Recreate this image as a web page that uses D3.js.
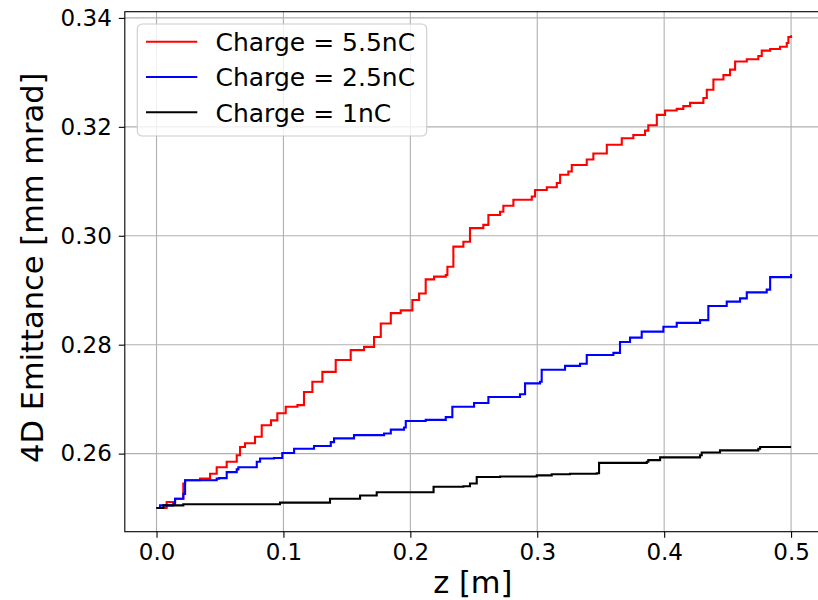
<!DOCTYPE html>
<html>
<head>
<meta charset="utf-8">
<script src="https://cdn.jsdelivr.net/npm/d3@7"></script>
<style>
  html, body { margin: 0; padding: 0; background: #fff; }
  svg { display: block; }
  text { font-family: "DejaVu Sans", sans-serif; fill: #000; }
</style>
</head>
<body>
<svg id="chart" width="818" height="600"></svg>
<script>
// ---- data ----
const zRed = [0.0, 0.008, 0.0146, 0.0211, 0.0225, 0.0343, 0.0422, 0.0474, 0.0553, 0.0632, 0.0658, 0.0697, 0.0776, 0.0829, 0.0902, 0.0952, 0.1018, 0.111, 0.1162, 0.1228, 0.1307, 0.1412, 0.153, 0.1635, 0.1714, 0.1767, 0.1846, 0.1924, 0.2016, 0.2069, 0.2121, 0.2187, 0.2279, 0.2292, 0.2339, 0.2418, 0.247, 0.2575, 0.2615, 0.2707, 0.2733, 0.2812, 0.2957, 0.2983, 0.3075, 0.3154, 0.318, 0.3245, 0.3272, 0.339, 0.3442, 0.3548, 0.3666, 0.3757, 0.3849, 0.3875, 0.3942, 0.4007, 0.4099, 0.4151, 0.4204, 0.4309, 0.4336, 0.4388, 0.4467, 0.4519, 0.4559, 0.4651, 0.4742, 0.4769, 0.4835, 0.4913, 0.4966, 0.4979, 0.5];
const emitRed = [0.2500, 0.2511, 0.2517, 0.2545, 0.2551, 0.2554, 0.2563, 0.2575, 0.2585, 0.2597, 0.2612, 0.2619, 0.2631, 0.2652, 0.2661, 0.2674, 0.2686, 0.2689, 0.2713, 0.2732, 0.2750, 0.2772, 0.2790, 0.2796, 0.2814, 0.2839, 0.2858, 0.2863, 0.2882, 0.2894, 0.2920, 0.2925, 0.2928, 0.2943, 0.2980, 0.2989, 0.3014, 0.3020, 0.3038, 0.3044, 0.3055, 0.3066, 0.3072, 0.3084, 0.3089, 0.3097, 0.3112, 0.3118, 0.3130, 0.3140, 0.3151, 0.3167, 0.3179, 0.3185, 0.3193, 0.3203, 0.3222, 0.3230, 0.3233, 0.3238, 0.3244, 0.3253, 0.3268, 0.3287, 0.3295, 0.3305, 0.3320, 0.3324, 0.3330, 0.3340, 0.3343, 0.3347, 0.3354, 0.3365, 0.3368];

const zBlue = [0.0, 0.0028, 0.0132, 0.0146, 0.0211, 0.0225, 0.0474, 0.0493, 0.0553, 0.0632, 0.0645, 0.079, 0.0816, 0.0926, 0.0991, 0.1084, 0.1241, 0.1373, 0.1399, 0.1556, 0.1793, 0.1846, 0.195, 0.1964, 0.2121, 0.2279, 0.2331, 0.2502, 0.2615, 0.2864, 0.2904, 0.3022, 0.3035, 0.3219, 0.3337, 0.339, 0.36, 0.3652, 0.3731, 0.3823, 0.3994, 0.4099, 0.4283, 0.4348, 0.4493, 0.4598, 0.4651, 0.4808, 0.4835, 0.5];
const emitBlue = [0.2500, 0.2505, 0.2508, 0.2517, 0.2526, 0.2551, 0.2554, 0.2555, 0.2566, 0.2571, 0.2575, 0.2585, 0.2591, 0.2592, 0.2601, 0.2609, 0.2614, 0.2621, 0.2628, 0.2634, 0.2637, 0.2644, 0.2648, 0.2660, 0.2662, 0.2667, 0.2686, 0.2693, 0.2704, 0.2709, 0.2729, 0.2732, 0.2754, 0.2761, 0.2765, 0.2781, 0.2785, 0.2805, 0.2813, 0.2824, 0.2833, 0.2840, 0.2845, 0.2871, 0.2879, 0.2885, 0.2896, 0.2901, 0.2924, 0.2930];

const zBlack = [0.0, 0.0054, 0.0211, 0.0605, 0.0973, 0.1367, 0.1604, 0.1735, 0.2183, 0.2418, 0.247, 0.2523, 0.2707, 0.2996, 0.3114, 0.3258, 0.3469, 0.3487, 0.3863, 0.3875, 0.3968, 0.4283, 0.4296, 0.444, 0.4742, 0.4756, 0.5];
const emitBlack = [0.2500, 0.2505, 0.2507, 0.2507, 0.2510, 0.2517, 0.2523, 0.2529, 0.2539, 0.2540, 0.2545, 0.2557, 0.2558, 0.2560, 0.2562, 0.2563, 0.2564, 0.2583, 0.2585, 0.2588, 0.2593, 0.2597, 0.2602, 0.2606, 0.2609, 0.2612, 0.2612];

const seriesNames = ["Charge = 5.5nC", "Charge = 2.5nC", "Charge = 1nC"];
const seriesColors = ["#ff0000", "#0000ff", "#000000"];

const xTicks = [0.0, 0.1, 0.2, 0.3, 0.4, 0.5];
const yTicks = [0.26, 0.28, 0.30, 0.32, 0.34];
const xDomain = [-0.025, 0.525];
const yDomain = [0.24566, 0.34114];
const xLabel = "z [m]";
const yLabel = "4D Emittance [mm mrad]";

// ---- layout ----
const plot = { left: 124.8, right: 822.8, top: 11.7, bottom: 531.7 };
const svg = d3.select("#chart");

const x = d3.scaleLinear().domain(xDomain).range([plot.left, plot.right]);
const y = d3.scaleLinear().domain(yDomain).range([plot.bottom, plot.top]);

// grid
const grid = svg.append("g");
grid.selectAll("line.gx").data(xTicks).enter().append("line")
  .attr("x1", d => x(d)).attr("x2", d => x(d))
  .attr("y1", plot.top).attr("y2", plot.bottom)
  .attr("stroke", "#b0b0b0").attr("stroke-width", 1.1);
grid.selectAll("line.gy").data(yTicks).enter().append("line")
  .attr("y1", d => y(d)).attr("y2", d => y(d))
  .attr("x1", plot.left).attr("x2", plot.right)
  .attr("stroke", "#b0b0b0").attr("stroke-width", 1.1);

// series
const series = [
  { z: zRed, v: emitRed },
  { z: zBlue, v: emitBlue },
  { z: zBlack, v: emitBlack }
];
const line = d3.line().x(d => x(d[0])).y(d => y(d[1])).curve(d3.curveStepAfter);
svg.append("defs").append("clipPath").attr("id", "clip")
  .append("rect").attr("x", plot.left).attr("y", plot.top)
  .attr("width", plot.right - plot.left).attr("height", plot.bottom - plot.top);
const lines = svg.append("g").attr("clip-path", "url(#clip)");
series.forEach((s, i) => {
  const pts = s.z.map((z, j) => [z, s.v[j]]);
  lines.append("path").attr("d", line(pts))
    .attr("fill", "none").attr("stroke", seriesColors[i])
    .attr("stroke-width", 2.1).attr("stroke-linejoin", "miter");
});

// axes
const xAxis = d3.axisBottom(x).tickValues(xTicks).tickFormat(d3.format(".1f")).tickSize(6).tickPadding(6);
const yAxis = d3.axisLeft(y).tickValues(yTicks).tickFormat(d3.format(".2f")).tickSize(6).tickPadding(7);
const gx = svg.append("g").attr("transform", `translate(0,${plot.bottom})`).call(xAxis);
const gy = svg.append("g").attr("transform", `translate(${plot.left},0)`).call(yAxis);
[gx, gy].forEach(g => {
  g.select(".domain").remove();
  g.selectAll(".tick line").attr("stroke", "#000").attr("stroke-width", 1.1);
  g.selectAll(".tick text").attr("font-family", "DejaVu Sans").attr("font-size", 23).attr("fill", "#000");
});

// spines
svg.append("rect").attr("x", plot.left).attr("y", plot.top)
  .attr("width", plot.right - plot.left).attr("height", plot.bottom - plot.top)
  .attr("fill", "none").attr("stroke", "#000").attr("stroke-width", 1.1);

// axis labels
svg.append("text").attr("x", (plot.left + plot.right) / 2 - 1).attr("y", 593)
  .attr("text-anchor", "middle").attr("font-size", 30.5).text(xLabel);
svg.append("text").attr("transform", `translate(43,${(plot.top + plot.bottom) / 2 - 4}) rotate(-90)`)
  .attr("text-anchor", "middle").attr("font-size", 30.5).text(yLabel);

// legend
const lg = svg.append("g");
lg.append("rect").attr("x", 137.3).attr("y", 24).attr("width", 289.4).attr("height", 112)
  .attr("rx", 5).attr("ry", 5)
  .attr("fill", "#fff").attr("fill-opacity", 0.8)
  .attr("stroke", "#cccccc").attr("stroke-width", 1.1);
seriesNames.forEach((name, i) => {
  const cy = 41.7 + i * 35.3;
  lg.append("line").attr("x1", 146).attr("x2", 197.3).attr("y1", cy).attr("y2", cy)
    .attr("stroke", seriesColors[i]).attr("stroke-width", 2.1);
  lg.append("text").attr("x", 215.5).attr("y", cy + 9.3)
    .attr("font-size", 25).text(name);
});
</script>
</body>
</html>
